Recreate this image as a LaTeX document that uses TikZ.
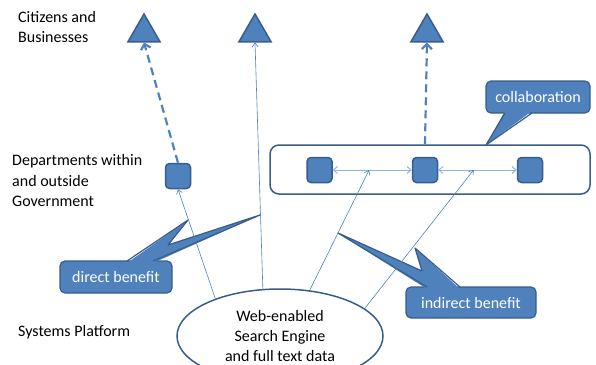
\documentclass[tikz,border=0pt]{standalone}
\usepackage{fontspec}
\setmainfont{Carlito}
\usetikzlibrary{positioning,shapes.geometric,arrows.meta}
\definecolor{offblue}{HTML}{4F81BD}
\definecolor{offedge}{HTML}{385D8A}
\definecolor{offpale}{HTML}{95B3D7}

\begin{document}
\begin{tikzpicture}[x=1pt, y=-1pt,
  font=\fontsize{16}{20}\selectfont,
  every node/.style={align=center},
  tri/.style={regular polygon, regular polygon sides=3, minimum size=37pt, inner sep=0pt, fill=offblue, draw=offedge, line width=1.5pt},
  unit/.style={draw=offedge, fill=offblue, line width=1.5pt, rounded corners=4pt, minimum size=25pt, inner sep=0pt},
  group/.style={draw=offedge, line width=1.5pt, rounded corners=9pt, minimum width=320pt, minimum height=49pt},
  engine/.style={ellipse, draw=offedge, line width=1.5pt, minimum width=206pt, minimum height=94pt, inner sep=0pt},
  callbox/.style={draw=offedge, fill=offblue, line width=1.2pt, rounded corners=5pt, text=white, inner sep=0pt},
  tail/.style={draw=offedge, line width=1.2pt, line join=round},
  lbl/.style={align=left, inner sep=0pt, anchor=west},
  feed/.style={draw=offblue, line width=0.6pt, -{Straight Barb[length=4pt,width=6pt]}},
  peer/.style={draw=offpale, line width=1pt, {Straight Barb[length=4pt,width=7pt]}-{Straight Barb[length=4pt,width=7pt]}},
  serve/.style={draw=offblue, line width=2.2pt, dash pattern=on 8pt off 5pt, -{Straight Barb[length=5pt,width=10pt]}}]
\useasboundingbox (0,0) rectangle (596,364);

% ---------------- level labels ----------------
\node[lbl] (lcit) at (18,27) {Citizens and\\Businesses};
\node[lbl, font=\fontsize{16}{20.5}\selectfont] (ldep) at (12,181) {Departments within\\and outside\\Government};
\node[lbl] (lsys) at (18,332) {Systems Platform};

% ---------------- users ----------------
\node[tri] (t1) at (144,32.5) {};
\node[tri] (t2) at (255,32.5) {};
\node[tri] (t3) at (427,32.5) {};

% ---------------- departments ----------------
\node[unit] (q0) at (178,176) {};
\node[group] (collab) at (430,169.5) {};
\node[unit] (q1) at (319.5,170) {};
\node[unit] (q2) at (425,170) {};
\node[unit] (q3) at (530,170) {};

% ---------------- platform ----------------
\node[engine] (web) at (280,336) {Web-enabled\\Search Engine\\and full text data};

% ---------------- callouts ----------------
\node[callbox, minimum width=112pt, minimum height=32pt] (dben) at (116,277) {direct benefit};
\fill[offblue] (127,263) -- (188,220) -- (168,245) -- (260,215) -- (153,263) -- cycle;
\draw[tail] (127,261) -- (188,220) -- (168,245) -- (260,215) -- (153,261);

\node[callbox, minimum width=130pt, minimum height=31pt] (iben) at (471,302.5) {indirect benefit};
\fill[offblue] (427,289) -- (338,233) -- (422,271) -- (415,248) -- (460,289) -- cycle;
\draw[tail] (427,287) -- (338,233) -- (422,271) -- (415,248) -- (460,287);

\node[callbox, minimum width=104pt, minimum height=32pt] (cben) at (538,97) {collaboration};
\fill[offblue] (505,111) -- (486,145) -- (532,111) -- cycle;
\draw[tail] (505,113) -- (486,145) -- (532,113);

% ---------------- arrows ----------------
\draw[peer] (q1) -- coordinate[pos=0.46] (m1) (q2);
\draw[peer] (q2) -- coordinate[pos=0.45] (m2) (q3);
\draw[feed] (web.150) -- (q0.south);
\draw[feed] (web.110) -- (t2.south);
\draw[feed] (web.57) -- (m1);
\draw[feed] (web.18) -- (m2);
\draw[serve] (q0.north) -- (t1.south);
\draw[serve] (q2 |- collab.north) -- (t3.south);
\end{tikzpicture}
\end{document}
